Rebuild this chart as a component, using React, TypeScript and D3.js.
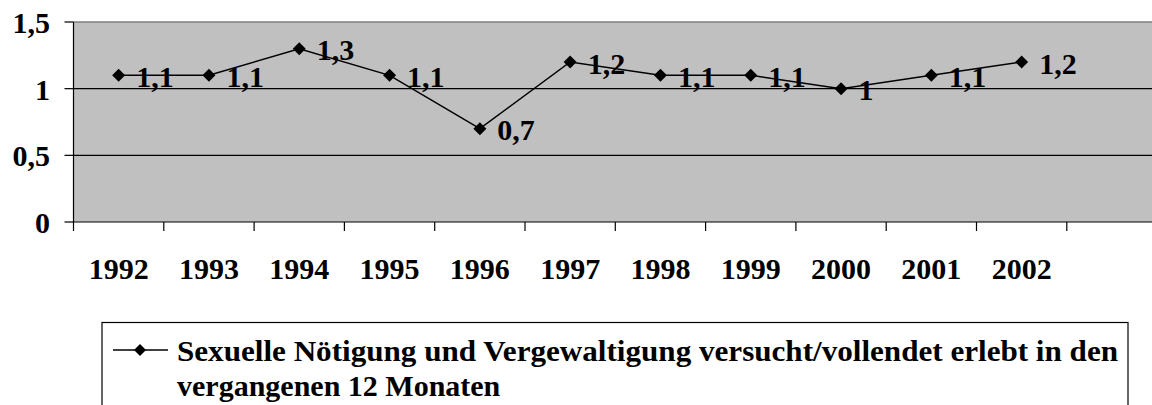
import React from "react";
import * as d3 from "d3";

const years = ["1992","1993","1994","1995","1996","1997","1998","1999","2000","2001","2002",""];
const values = [1.1,1.1,1.3,1.1,0.7,1.2,1.1,1.1,1.0,1.1,1.2];
const valueLabels = ["1,1","1,1","1,3","1,1","0,7","1,2","1,1","1,1","1","1,1","1,2"];
const yTicks = [0,0.5,1,1.5];
const yTickLabels = ["0","0,5","1","1,5"];
const legendLines = ["Sexuelle Nötigung und Vergewaltigung versucht/vollendet erlebt in den","vergangenen 12 Monaten"];

const W = 1152, H = 405;
const FONT = "Liberation Serif";

export default function App() {
  const x0 = 73.5, band = 90.3;
  const keys = years.map((yy, i) => yy || "_" + i);
  const x = d3.scaleBand<string>().domain(keys).range([x0, x0 + band * years.length]);
  const y = d3.scaleLinear().domain([0, 1.5]).range([222, 22]);
  const cx = (i: number) => (x(keys[i]) as number) + x.bandwidth() / 2;
  const line = d3.line<number>().x((_, i) => cx(i)).y(d => y(d));
  const diamond = (px: number, py: number, r = 6.5) => `M${px},${py - r}L${px + r},${py}L${px},${py + r}L${px - r},${py}Z`;
  const right = x0 + band * years.length;
  return (
    <svg width={W} height={H} style={{ position: "absolute", left: 0, top: 0, background: "#fff" }} fontFamily={FONT} fontWeight="bold">
      <rect x={x0} y={y(1.5)} width={right - x0} height={y(0) - y(1.5)} fill="#C0C0C0" />
      <line x1={x0} x2={right} y1={y(1.5)} y2={y(1.5)} stroke="#808080" strokeWidth={1.5} />
      {yTicks.filter(t => t > 0 && t < 1.5).map(t => (
        <line key={t} x1={x0} x2={right} y1={y(t)} y2={y(t)} stroke="#000" strokeWidth={1.2} />
      ))}
      <line x1={x0} x2={x0} y1={y(1.5)} y2={y(0)} stroke="#000" strokeWidth={1.2} />
      <line x1={x0} x2={right} y1={y(0)} y2={y(0)} stroke="#000" strokeWidth={1.2} />
      {yTicks.map((t, i) => (
        <g key={t}>
          <line x1={x0 - 9} x2={x0} y1={y(t)} y2={y(t)} stroke="#000" strokeWidth={1.2} />
          <text x={50} y={y(t) + 11} textAnchor="end" fontSize={30} fontFamily={FONT}>{yTickLabels[i]}</text>
        </g>
      ))}
      {keys.map((k) => (
        <line key={k} x1={(x(k) as number)} x2={(x(k) as number)} y1={y(0)} y2={y(0) + 9} stroke="#000" strokeWidth={1.2} />
      ))}
      {years.map((yr, i) => yr ? (
        <text key={yr} x={cx(i)} y={279} textAnchor="middle" fontSize={30} fontFamily={FONT}>{yr}</text>
      ) : null)}
      <path d={line(values) || ""} fill="none" stroke="#000" strokeWidth={1.5} />
      {values.map((v, i) => (
        <path key={i} d={diamond(cx(i), y(v))} fill="#000" />
      ))}
      {values.map((v, i) => (
        <text key={"l" + i} x={cx(i) + 17.5} y={y(v) + 11.5} fontSize={30} fontFamily={FONT}>{valueLabels[i]}</text>
      ))}
      <rect x={102} y={322.5} width={1026} height={120} fill="#fff" stroke="#000" strokeWidth={1.2} />
      <line x1={113} x2={168} y1={350} y2={350} stroke="#000" strokeWidth={1.5} />
      <path d={diamond(140, 350, 6)} fill="#000" />
      <text x={177} y={361} fontSize={30} fontFamily={FONT} textLength={941} lengthAdjust="spacingAndGlyphs">{legendLines[0]}</text>
      <text x={177} y={396} fontSize={30} fontFamily={FONT}>{legendLines[1]}</text>
    </svg>
  );
}
